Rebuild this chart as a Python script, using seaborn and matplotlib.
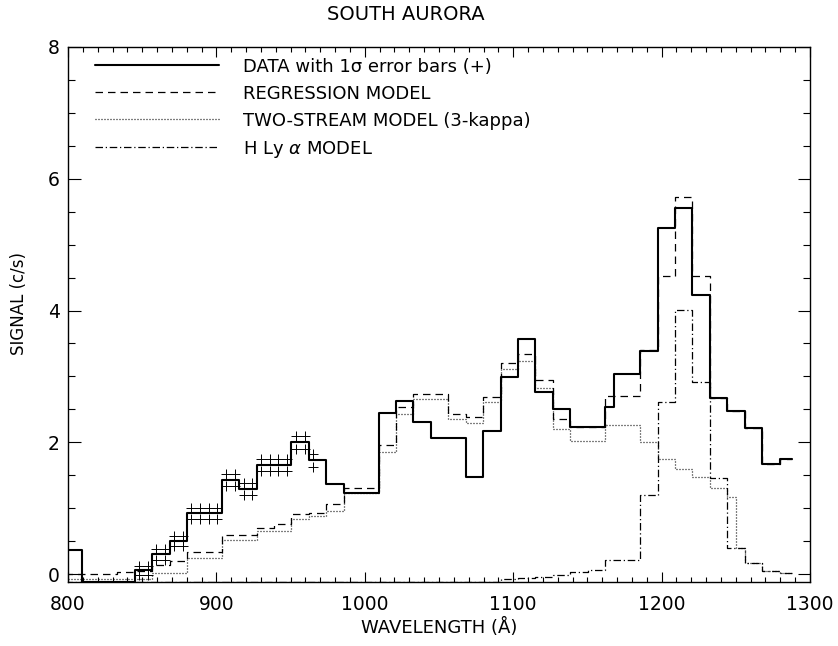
import matplotlib
matplotlib.use("Agg")
import matplotlib.pyplot as plt
import numpy as np
import pandas as pd
import seaborn as sns
from matplotlib.ticker import MultipleLocator

# ---------------- data ----------------
data_edges = [798.0, 809.7, 845.0, 856.7, 868.4, 880.2, 903.7, 915.4, 927.1, 950.6,
              962.4, 974.1, 985.9, 1009.3, 1021.1, 1032.8, 1044.6, 1068.1, 1079.8,
              1091.5, 1103.3, 1115.0, 1126.8, 1138.5, 1162.0, 1167.9, 1185.5, 1197.3,
              1209.0, 1220.7, 1232.5, 1244.2, 1256.0, 1267.7, 1279.5, 1288.0]
data_signal = [0.37, -0.12, 0.06, 0.30, 0.50, 0.92, 1.43, 1.29, 1.65, 2.00,
               1.73, 1.36, 1.23, 2.44, 2.63, 2.31, 2.07, 1.48, 2.17,
               2.99, 3.57, 2.77, 2.50, 2.23, 2.53, 3.04, 3.38, 5.25,
               5.55, 4.24, 2.67, 2.48, 2.21, 1.67, 1.75]

model_edges = [798.0, 809.7, 821.5, 833.2, 845.0, 856.7, 868.4, 880.2, 891.9, 903.7,
               915.4, 927.1, 938.9, 950.6, 962.4, 974.1, 985.9, 997.6, 1009.3, 1021.1,
               1032.8, 1044.6, 1056.3, 1068.1, 1079.8, 1091.5, 1103.3, 1115.0, 1126.8,
               1138.5, 1150.3, 1162.0, 1173.8, 1185.5, 1197.3, 1209.0, 1220.7, 1232.5,
               1244.2, 1250.1, 1256.0, 1267.7, 1279.5, 1288.0]
regression = [0.00, 0.00, 0.00, 0.03, 0.05, 0.14, 0.20, 0.34, 0.34, 0.60,
              0.60, 0.70, 0.76, 0.91, 0.93, 1.06, 1.31, 1.31, 1.96, 2.53,
              2.73, 2.73, 2.43, 2.38, 2.69, 3.21, 3.34, 2.94, 2.35,
              2.23, 2.23, 2.71, 2.71, 3.40, 4.52, 5.72, 4.52, 2.67,
              2.48, 2.48, 2.21, 1.67, 1.75]
two_stream = [-0.08, -0.08, -0.08, -0.08, -0.08, 0.02, 0.02, 0.25, 0.25, 0.51,
              0.51, 0.66, 0.66, 0.83, 0.88, 0.96, 1.23, 1.23, 1.86, 2.43,
              2.65, 2.65, 2.35, 2.29, 2.61, 3.11, 3.23, 2.82, 2.20,
              2.02, 2.02, 2.27, 2.27, 2.01, 1.75, 1.59, 1.48, 1.31,
              1.17, 0.40, 0.17, 0.05, 0.01]
ly_alpha = [-0.12, -0.12, -0.12, -0.12, -0.12, -0.12, -0.12, -0.12, -0.12, -0.12,
            -0.12, -0.12, -0.12, -0.12, -0.12, -0.12, -0.12, -0.12, -0.12, -0.12,
            -0.12, -0.12, -0.12, -0.12, -0.12, -0.08, -0.06, -0.04, -0.01,
            0.03, 0.06, 0.22, 0.22, 1.20, 2.61, 4.01, 2.91, 1.46,
            0.40, 0.40, 0.17, 0.05, 0.01]

err_wl = [847.9, 853.8, 859.6, 865.5, 871.3, 877.2, 883.1, 889.0, 894.8, 900.7,
          906.6, 912.5, 918.3, 924.2, 930.0, 935.9, 941.8, 947.7, 953.5, 959.4, 965.3]
err_val = [0.06, 0.06, 0.30, 0.30, 0.50, 0.50, 0.92, 0.92, 0.92, 0.92,
           1.43, 1.43, 1.29, 1.29, 1.65, 1.65, 1.65, 1.65, 2.00, 2.00, 1.73]
err_sig = [0.07, 0.07, 0.08, 0.08, 0.08, 0.08, 0.09, 0.09, 0.09, 0.09,
           0.09, 0.09, 0.09, 0.09, 0.09, 0.09, 0.09, 0.09, 0.10, 0.10, 0.10]

labels = ["DATA with 1\u03c3 error bars (+)", "REGRESSION MODEL",
          "TWO-STREAM MODEL (3-kappa)", "H Ly $\\alpha$ MODEL"]

# ---------------- style ----------------
sns.set_style("ticks")
plt.rcParams["font.family"] = ["DejaVu Sans"]
plt.rcParams["mathtext.fontset"] = "dejavusans"
for k in ["text.color", "axes.labelcolor", "xtick.color", "ytick.color", "axes.edgecolor"]:
    plt.rcParams[k] = "black"

fig = plt.figure(figsize=(8.38, 6.46), dpi=100)
ax = fig.add_axes([68 / 838, 1 - 582 / 646, 742 / 838, 535 / 646])


def step(edges, vals, **kw):
    df = pd.DataFrame({"wl": edges, "sig": list(vals) + [vals[-1]]})
    sns.lineplot(data=df, x="wl", y="sig", drawstyle="steps-post",
                 estimator=None, sort=False, ax=ax, color="black", **kw)


step(data_edges, data_signal, lw=1.5, label=labels[0])
step(model_edges, regression, lw=0.9, linestyle=(0, (6, 4)), label=labels[1])
step(model_edges, two_stream, lw=0.9, linestyle=(0, (0.8, 1.6)), label=labels[2])
step(model_edges, ly_alpha, lw=0.9, linestyle=(0, (6, 2.2, 1, 2.2)), label=labels[3])

err_df = pd.DataFrame({"wl": err_wl,
                       "hi": np.array(err_val) + np.array(err_sig),
                       "lo": np.array(err_val) - np.array(err_sig)})
for col in ["hi", "lo"]:
    sns.scatterplot(data=err_df, x="wl", y=col, marker="+", s=50,
                    linewidth=0.7, color="black", ax=ax, legend=False, zorder=3)

ax.set_xlim(800, 1300)
ax.set_ylim(-0.12, 8)
ax.xaxis.set_major_locator(MultipleLocator(100))
ax.xaxis.set_minor_locator(MultipleLocator(10))
ax.yaxis.set_major_locator(MultipleLocator(2))
ax.yaxis.set_minor_locator(MultipleLocator(0.5))
ax.tick_params(which="both", direction="in", top=True, right=True, width=0.8)
ax.tick_params(axis="x", which="major", length=7, labelsize=13.5, pad=9)
ax.tick_params(axis="x", which="minor", length=3.5)
ax.tick_params(axis="y", which="major", length=9, labelsize=13.5, pad=6)
ax.tick_params(axis="y", which="minor", length=5)
for s in ax.spines.values():
    s.set_visible(True)
    s.set_linewidth(1.0)

ax.set_xlabel("WAVELENGTH (\u00c5)", fontsize=13)
ax.xaxis.set_label_coords(0.5, -0.068)
ax.set_ylabel("SIGNAL (c/s)", fontsize=12)
ax.yaxis.set_label_coords(-0.054, 0.52)
fig.text(406 / 838, 1 - 15 / 646, "SOUTH AURORA", ha="center", va="center", fontsize=14)

ax.legend(loc="upper left", bbox_to_anchor=(0.036, 0.98), frameon=False,
          fontsize=13, handlelength=6.9, handletextpad=1.3, labelspacing=0.5,
          borderpad=0, borderaxespad=0)

fig.savefig("out.png", dpi=100)
